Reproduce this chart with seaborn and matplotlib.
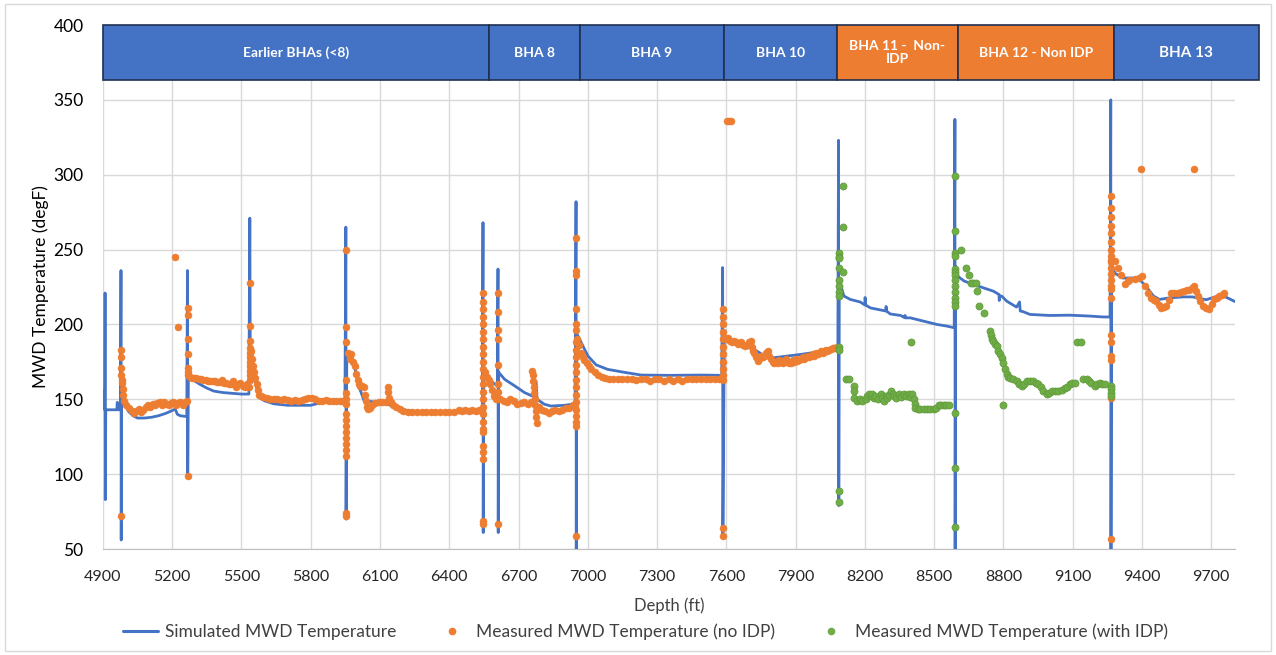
import numpy as np
import pandas as pd
import matplotlib
matplotlib.use("Agg")
import matplotlib.pyplot as plt
import seaborn as sns
from matplotlib.patches import Rectangle
from matplotlib.lines import Line2D

# =========================
#  Data
# =========================

# simulated MWD temperature (depth ft, degF), spikes are trips
sim_pts = [
    (4900, 156), (4903, 151), (4906, 145), (4908, 143), (4909, 221), (4910, 83), (4912, 143),
    (4960, 143), (4962, 148), (4964, 143), (4976, 143), (4978, 236), (4979, 56), (4981, 165),
    (4988, 153), (4995, 147), (5010, 142), (5030, 139), (5050, 137.5), (5080, 137.5), (5110, 138),
    (5140, 139), (5170, 140.5), (5200, 142.5), (5213, 143.5), (5222, 140), (5235, 139), (5263, 138.5),
    (5266, 236), (5267, 98), (5270, 166), (5290, 163), (5320, 160), (5350, 157.5), (5380, 155.5),
    (5420, 154.5), (5460, 154), (5500, 153.5), (5532, 153.5), (5536, 271), (5538, 176), (5550, 172),
    (5565, 158), (5579, 151), (5600, 149), (5640, 147), (5700, 146), (5760, 146), (5800, 146),
    (5850, 148), (5900, 148.5), (5948, 148.5), (5952, 265), (5953, 70), (5956, 177), (5975, 175),
    (5988, 173), (6010, 158), (6031, 149), (6080, 148.2), (6120, 147.5), (6160, 145), (6200, 143),
    (6250, 142), (6300, 141.5), (6400, 141), (6500, 141), (6543, 141), (6546, 268), (6547, 61),
    (6549, 168), (6570, 164), (6590, 161), (6608, 159), (6611, 237), (6612, 61), (6614, 168),
    (6640, 163.3), (6683, 159), (6726, 154.5), (6762, 152), (6776, 162), (6780, 150), (6812, 146.7),
    (6840, 145.5), (6900, 146), (6945, 147), (6949, 282), (6950, 48), (6952, 194), (6971, 188),
    (7000, 179), (7036, 173), (7086, 170), (7159, 168), (7231, 166.2), (7350, 166), (7490, 166.2),
    (7580, 166), (7584, 238), (7585, 59), (7591, 192), (7634, 188), (7680, 185.6), (7721, 183.3),
    (7765, 179), (7807, 177.8), (7865, 178.9), (7923, 180), (7995, 181.6), (8067, 183.3), (8083, 184),
    (8086, 323), (8087, 79), (8089, 227.8), (8099, 224.4), (8109, 219), (8137, 216.7), (8180, 215),
    (8200, 213), (8201, 218), (8203, 213), (8225, 211), (8290, 209), (8292, 212), (8294, 208.9),
    (8310, 207), (8355, 206), (8372, 204.5), (8374, 206), (8376, 204.4), (8397, 204.4), (8455, 202.2),
    (8512, 200), (8555, 198.9), (8587, 197.8), (8590, 337), (8591, 48), (8593, 239), (8604, 232),
    (8630, 229), (8670, 226.7), (8714, 224.4), (8757, 222.2), (8781, 220), (8782, 216), (8784, 219),
    (8793, 218.9), (8814, 215.6), (8857, 211.6), (8870, 215), (8873, 209), (8886, 208.5), (8915, 206.7),
    (9001, 206), (9088, 206.2), (9174, 205.6), (9232, 205), (9262, 205), (9265, 350), (9266, 50),
    (9269, 238), (9285, 234), (9318, 231), (9360, 231), (9390, 230), (9420, 225), (9450, 219),
    (9476, 216.7), (9520, 217.8), (9580, 218.4), (9620, 218.4), (9678, 216.5), (9720, 218.5),
    (9750, 219.3), (9780, 217), (9807, 215),
]

# measured MWD temperature, BHAs without IDP
noidp_pts = [
    (4980, 183), (4980, 178), (4980, 171), (4980, 166), (4981, 163), (4981, 161), (4980, 72),
    (4986, 157), (4988, 153), (4992, 149), (5000, 146), (5012, 144), (5025, 142), (5035, 141),
    (5045, 142), (5055, 143.5), (5065, 141.5), (5075, 143), (5085, 145), (5095, 146), (5105, 145),
    (5115, 147), (5125, 146), (5135, 147.5), (5145, 148), (5155, 146.5), (5165, 148), (5175, 147),
    (5185, 146), (5195, 147.5), (5205, 148), (5215, 146.5), (5225, 147.5), (5235, 148), (5245, 146.5),
    (5255, 148), (5262, 149), (5214, 245), (5226, 198),
    (5267, 211), (5267, 206), (5267, 190), (5267, 180), (5267, 171), (5268, 168), (5268, 166), (5267, 99),
    (5275, 165), (5285, 164.5), (5295, 164), (5305, 164), (5315, 163.5), (5325, 163.5), (5335, 163),
    (5345, 163), (5355, 162.5), (5365, 162), (5375, 162), (5385, 162), (5395, 161.5), (5405, 161.5),
    (5415, 163), (5425, 161), (5435, 161), (5445, 160.5), (5455, 160), (5465, 162), (5475, 158.5),
    (5485, 160), (5495, 161), (5505, 159), (5515, 158), (5525, 160), (5532, 158),
    (5537, 228), (5537, 199), (5537, 189), (5537, 184), (5538, 181), (5538, 178), (5538, 175),
    (5538, 172), (5538, 169), (5538, 166), (5538, 163),
    (5543, 182), (5547, 177), (5551, 172), (5555, 168), (5560, 164), (5565, 160), (5570, 156),
    (5576, 153), (5585, 152), (5595, 151.5), (5610, 151), (5625, 150.5), (5640, 150), (5655, 150),
    (5670, 149.5), (5685, 150), (5700, 149.5), (5715, 149), (5730, 149.5), (5745, 149), (5760, 149.5),
    (5775, 150.5), (5790, 151), (5805, 151), (5820, 150), (5835, 149), (5850, 149), (5865, 149.5),
    (5880, 149), (5895, 149), (5910, 149), (5925, 149), (5940, 149), (5947, 148.5),
    (5953, 250), (5953, 198), (5953, 188), (5953, 163), (5953, 154), (5953, 150), (5953, 147),
    (5953, 140), (5953, 136), (5953, 132), (5953, 128), (5953, 124), (5953, 120), (5953, 116),
    (5953, 112), (5953, 74), (5953, 72),
    (5962, 181), (5968, 177), (5975, 180), (5982, 175), (5990, 172), (5997, 167), (6003, 163),
    (6008, 160), (6015, 159), (6022, 159), (6030, 158), (6034, 153), (6038, 149), (6042, 145),
    (6048, 143.5), (6055, 144), (6065, 146), (6080, 147.5), (6095, 148), (6110, 148), (6125, 148),
    (6133, 158.5), (6136, 155), (6140, 151), (6146, 148), (6155, 146), (6170, 145), (6185, 143.5),
    (6200, 142.5), (6220, 141.5), (6240, 141.5), (6260, 141.5), (6280, 141.5), (6300, 141.5),
    (6320, 141.5), (6340, 141.5), (6360, 141.5), (6380, 141.5), (6400, 141.5), (6420, 141.5),
    (6440, 143), (6455, 142), (6470, 143), (6485, 142), (6500, 143), (6515, 142), (6530, 143), (6540, 142),
    (6546, 221), (6546, 215), (6546, 210), (6546, 205), (6546, 200), (6546, 195), (6546, 190),
    (6546, 185), (6546, 180), (6546, 175), (6546, 170), (6546, 165), (6546, 160), (6546, 155),
    (6546, 150), (6546, 145), (6546, 140), (6546, 135), (6546, 130), (6546, 128), (6546, 119),
    (6546, 115), (6546, 110), (6546, 69), (6546, 67),
    (6555, 168), (6563, 165), (6570, 163), (6578, 160), (6586, 156), (6595, 152), (6603, 150),
    (6611, 221), (6611, 208), (6611, 196), (6611, 190), (6611, 173), (6611, 160), (6611, 155),
    (6611, 150), (6611, 67),
    (6620, 150), (6635, 149), (6650, 148), (6665, 150), (6680, 149), (6695, 147), (6710, 147.5),
    (6725, 148), (6740, 147), (6752, 148),
    (6760, 169), (6762, 166), (6764, 162), (6766, 158), (6768, 154), (6770, 150), (6772, 146),
    (6774, 142), (6776, 138), (6778, 134),
    (6790, 145), (6800, 143), (6815, 142), (6830, 141), (6845, 142), (6860, 143), (6875, 142),
    (6890, 143), (6905, 144), (6920, 144.5), (6935, 146), (6943, 145),
    (6949, 258), (6949, 236), (6949, 233), (6949, 210), (6949, 200), (6949, 196), (6949, 188),
    (6949, 183), (6949, 178), (6949, 173), (6949, 168), (6949, 163), (6949, 158), (6949, 153),
    (6949, 148), (6949, 143), (6949, 139), (6949, 135), (6949, 132), (6949, 59),
    (6955, 190), (6962, 186), (6970, 181), (6978, 178), (6985, 176), (6995, 174), (7005, 172),
    (7015, 170), (7030, 168), (7045, 166.5), (7060, 165), (7075, 164), (7090, 163.5),
    (7110, 163.3), (7130, 163.3), (7150, 163.5), (7170, 163.3), (7190, 163.3), (7210, 163),
    (7230, 163.3), (7250, 163.3), (7270, 162), (7290, 163.3), (7310, 163.3), (7330, 162),
    (7350, 163.3), (7370, 162), (7390, 163.3), (7410, 162.5), (7430, 163.3), (7450, 163.3),
    (7470, 163.5), (7490, 163.3), (7510, 163.3), (7530, 163.5), (7550, 163.3), (7570, 163.3), (7580, 163.5),
    (7584, 210), (7584, 205), (7584, 200), (7584, 195), (7584, 190), (7584, 185), (7584, 180),
    (7584, 175), (7584, 170), (7584, 166), (7584, 163), (7584, 64), (7584, 59),
    (7605, 336), (7613, 336), (7621, 336),
    (7592, 191), (7600, 190), (7608, 191), (7616, 189), (7625, 188), (7634, 189), (7643, 188),
    (7652, 187), (7663, 188), (7672, 186), (7682, 185.6), (7692, 186), (7700, 188), (7707, 189),
    (7712, 185), (7716, 182), (7721, 181), (7728, 178), (7735, 175.6), (7742, 177), (7750, 179),
    (7757, 178), (7764, 179), (7771, 181), (7779, 182), (7786, 179), (7793, 177), (7800, 175),
    (7808, 174), (7815, 175), (7822, 174.4), (7830, 176), (7837, 175), (7845, 174), (7851, 175.6),
    (7858, 177), (7866, 175), (7873, 174), (7880, 174.4), (7888, 176), (7895, 175), (7903, 177),
    (7908, 175.6), (7916, 176), (7923, 177), (7930, 178), (7937, 176.7), (7945, 178), (7952, 179),
    (7960, 178), (7966, 179), (7974, 180), (7981, 179), (7988, 181), (7995, 180), (8003, 181),
    (8010, 182), (8017, 181), (8024, 182.2), (8031, 183), (8038, 182), (8046, 183), (8053, 183.8),
    (8060, 184), (8067, 184.5), (8074, 184.4), (8080, 185),
    (9265, 285.6), (9265, 278), (9265, 272), (9265, 266), (9265, 261), (9265, 255), (9265, 250),
    (9265, 246), (9265, 242), (9265, 238), (9265, 234), (9265, 230), (9265, 226), (9265, 224),
    (9265, 218), (9265, 193), (9265, 188), (9265, 179), (9265, 176), (9265, 151), (9265, 57),
    (9268, 243.3), (9282, 242.2), (9297, 237.8), (9311, 233.3), (9325, 227.3), (9339, 229),
    (9346, 230), (9368, 230.4), (9389, 231.1), (9401, 232.2), (9412, 225.6), (9426, 221.1),
    (9440, 217.8), (9451, 216.5), (9462, 215.6), (9473, 213), (9484, 211.1), (9495, 211.5),
    (9505, 212.2), (9516, 216), (9527, 220.7), (9541, 221), (9556, 221), (9570, 222), (9584, 222.2),
    (9595, 223), (9606, 223.3), (9617, 224.5), (9627, 225.6), (9635, 222.5), (9642, 219.3),
    (9652, 215.5), (9663, 212.2), (9678, 211), (9692, 210.4), (9703, 213.5), (9714, 216.7),
    (9725, 217.5), (9735, 218.9), (9746, 220), (9757, 221.1),
    (9397, 304), (9625, 304),
]

# measured MWD temperature, BHAs with IDP
idp_pts = [
    (8086, 247.8), (8086, 245), (8086, 244.4), (8086, 237.8), (8086, 230), (8086, 226), (8086, 222),
    (8086, 219), (8086, 185), (8086, 183), (8086, 88.9), (8086, 81.1),
    (8104, 292.2), (8104, 264.9), (8104, 235),
    (8117, 163.3), (8131, 163.3), (8153, 158.9), (8153, 155.6), (8155, 151.1), (8167, 148.9),
    (8178, 150), (8188, 148.9), (8203, 150), (8210, 152), (8217, 153.3), (8225, 152), (8232, 153.3),
    (8240, 151), (8246, 152.2), (8255, 150), (8268, 153.3), (8275, 151), (8282, 148.9), (8290, 152),
    (8296, 151.1), (8305, 153), (8314, 155.6), (8320, 153.3), (8325, 152.2), (8335, 151),
    (8347, 153.3), (8355, 151.5), (8368, 153.3), (8378, 152), (8390, 153.3), (8397, 151.5),
    (8404, 153.3), (8412, 150), (8416, 147), (8419, 144.4), (8430, 143.3), (8440, 143.3),
    (8455, 143.3), (8469, 143.3), (8483, 143.3), (8498, 143.3), (8510, 144.5), (8519, 146),
    (8530, 146), (8541, 146), (8552, 146), (8563, 146), (8400, 188.2),
    (8590, 298.9), (8590, 262.2), (8590, 247.8), (8590, 246), (8590, 237), (8590, 235), (8590, 233),
    (8590, 230), (8590, 226), (8590, 222), (8590, 218), (8590, 215), (8590, 212), (8590, 141),
    (8590, 103.8), (8590, 64.4),
    (8616, 250), (8637, 237.8), (8649, 232.7), (8659, 227.8), (8670, 228), (8681, 227.8),
    (8685, 222.2), (8696, 212.2), (8717, 207.8), (8740, 195.6), (8745, 192.7), (8750, 190),
    (8757, 188.9), (8764, 187), (8771, 185.6), (8778, 182.2), (8786, 180), (8793, 177.8),
    (8800, 174.4), (8807, 170), (8814, 166.7), (8820, 165), (8829, 164.4), (8843, 163.5),
    (8858, 162.2), (8868, 160.5), (8879, 158.9), (8890, 160.5), (8901, 162.2), (8915, 162.2),
    (8930, 162.2), (8940, 161), (8951, 160), (8962, 158), (8973, 155.6), (8987, 153.3),
    (8998, 154.5), (9009, 155.6), (9023, 155.6), (9037, 155.6), (9052, 156.5), (9066, 157.8),
    (9077, 158.5), (9088, 160), (9099, 161), (9109, 161.1), (9145, 163.3), (9160, 163.3),
    (9170, 162), (9181, 161.1), (9196, 158.9), (9206, 160), (9217, 161.1), (9228, 160.5),
    (9239, 160), (9265, 158.9), (9265, 156.7), (9265, 154.4), (9265, 152.2),
    (8800, 146), (9120, 188.2), (9134, 188.2),
]

# BHA bands along the top of the chart
bha_labels = ["Earlier BHAs (<8)", "BHA 8", "BHA 9", "BHA 10",
              "BHA 11 -  Non-\nIDP", "BHA 12 - Non IDP", "BHA 13"]
bha_edges = [4900, 6572, 6965, 7590, 8078, 8603, 9278, 9905]
bha_idp = [True, True, True, True, False, False, True]

BLUE = "#4472C4"
ORANGE = "#ED7D31"
GREEN = "#70AD47"

sim = pd.DataFrame(sim_pts, columns=["depth", "temp"])
noidp = pd.DataFrame(noidp_pts, columns=["depth", "temp"])
idp = pd.DataFrame(idp_pts, columns=["depth", "temp"])

sns.set_style("white")
plt.rcParams["font.family"] = ["Lato", "DejaVu Sans"]

fig = plt.figure(figsize=(12.76, 6.55), dpi=100)
ax = fig.add_axes([0.0807, 0.1618, 0.8875, 0.800])

sns.lineplot(data=sim, x="depth", y="temp", sort=False, estimator=None,
             color=BLUE, lw=2.0, ax=ax, zorder=3)
sns.scatterplot(data=noidp, x="depth", y="temp", color=ORANGE, s=26,
                edgecolor=ORANGE, linewidth=0.3, ax=ax, zorder=4)
sns.scatterplot(data=idp, x="depth", y="temp", color=GREEN, s=26,
                edgecolor="#5E9A3A", linewidth=0.5, ax=ax, zorder=4)

ax.set_xlim(4900, 9805)
ax.set_ylim(50, 400)
ax.set_xticks(np.arange(4900, 9801, 300))
ax.set_yticks(np.arange(50, 401, 50))
ax.grid(True, color="#D9D9D9", lw=1.0)
ax.set_axisbelow(True)
for side in ["top", "right", "left"]:
    ax.spines[side].set_visible(False)
ax.spines["bottom"].set_color("#BFBFBF")
ax.tick_params(axis="both", length=0, labelsize=11.5, colors="#262626")
ax.tick_params(axis="x", pad=15)
ax.tick_params(axis="y", pad=14)
for lab in ax.get_yticklabels():
    lab.set_fontsize(12.5)
    lab.set_color("black")

ax.set_xlabel("Depth (ft)", fontsize=12, color="#404040")
ax.xaxis.set_label_coords(0.5, -0.092)
ax.set_ylabel("MWD Temperature (degF)", fontsize=12.5, color="black")
ax.yaxis.set_label_coords(-0.048, 0.5)

# top band of BHA boxes
for i, lab in enumerate(bha_labels):
    x0, x1 = bha_edges[i], bha_edges[i + 1]
    fc = BLUE if bha_idp[i] else ORANGE
    ax.add_patch(Rectangle((x0, 363), x1 - x0, 37, facecolor=fc,
                           edgecolor="#1F3050", lw=1.2, zorder=6, clip_on=False))
    fs = 11 if lab == "BHA 13" else 10
    ax.text((x0 + x1) / 2, 381.5, lab, ha="center", va="center", color="white",
            fontsize=fs, fontweight="bold", zorder=7, linespacing=1.1)

handles = [
    Line2D([], [], color=BLUE, lw=2.2),
    Line2D([], [], color=ORANGE, marker="o", ls="", ms=4.5),
    Line2D([], [], color=GREEN, marker="o", ls="", ms=4.5),
]
labels = ["Simulated MWD Temperature", "Measured MWD Temperature (no IDP)",
          "Measured MWD Temperature (with IDP)"]
fig.legend(handles, labels, loc="center", bbox_to_anchor=(0.506, 0.035), ncol=3,
           frameon=False, fontsize=12.5, columnspacing=2.2, handlelength=2.0,
           handletextpad=0.4, labelcolor="#404040")

fig.patches.append(Rectangle((0.004, 0.006), 0.992, 0.988, transform=fig.transFigure,
                             fill=False, ec="#D9D9D9", lw=1.0))

fig.savefig("out.png", dpi=100)
plt.close(fig)
